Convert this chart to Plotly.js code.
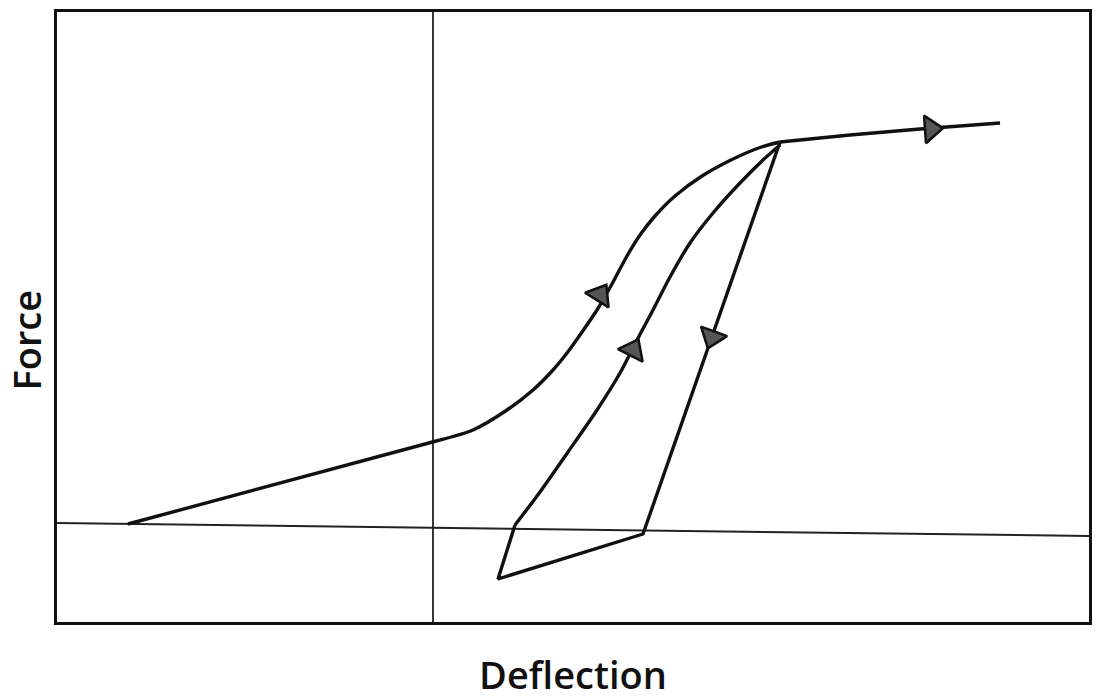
<!DOCTYPE html>
<html>
<head>
<meta charset="utf-8">
<script src="https://cdn.plot.ly/plotly-3.0.1.min.js"></script>
<style>
  html, body { margin: 0; padding: 0; background: #fff; }
  #grafica { width: 1097px; height: 700px; }
</style>
</head>
<body>
<div id="grafica"></div>
<script>
// loading path: slow linear rise, then the S-curve up to the plateau
var rectaX = [-30.4, 0.8];
var rectaY = [0.6, 9.0];
var cargaX = [0.8, 4.1, 7.5, 10.1, 12.1, 13.5, 15.0, 16.5, 18.0, 19.5, 20.8, 22.3, 24.3, 27.0, 30.1, 32.8, 34.8];
var cargaY = [9.0, 10.0, 12.0, 14.0, 16.0, 17.7, 19.8, 22.0, 24.6, 27.4, 29.5, 31.4, 33.4, 35.4, 37.1, 38.25, 38.8];
var mesetaX = [34.8, 41.8, 48.8, 56.8];
var mesetaY = [38.8, 39.5, 40.1, 40.7];

// unloading line and the small loop below zero
var bajadaX = [34.8, 21.1, 6.6, 8.3];
var bajadaY = [38.8, -0.4, -4.9, 0.5];

// reloading curve back to the plateau
var recargaX = [8.3, 10.8, 13.6, 16.5, 18.8, 20.5, 22.1, 23.8, 25.8, 28.1, 30.8, 33.1, 34.8];
var recargaY = [0.5, 3.8, 7.8, 12.0, 15.7, 19.0, 22.0, 25.3, 28.7, 31.7, 34.7, 37.0, 38.5];

// arrow heads (angle in degrees, clockwise from up)
var flechaX = [16.8, 20.1, 28.0, 49.9];
var flechaY = [23.5, 18.0, 19.3, 40.1];
var flechaAng = [32, 27, 200, 86];

// reference lines of the sketch
var ejeHX = [-37.5, 65.7];
var ejeHY = [0.7, -0.6];
var ejeVX = [0.1, 0.1];
var ejeVY = [-9.2, 51.8];

var trazo = {color: '#111', width: 3.4};
var curva = {color: '#111', width: 3.4, shape: 'spline', smoothing: 0.8};

var data = [
  {x: ejeHX, y: ejeHY, mode: 'lines', line: {color: '#222', width: 2}, hoverinfo: 'skip'},
  {x: ejeVX, y: ejeVY, mode: 'lines', line: {color: '#222', width: 1.8}, hoverinfo: 'skip'},
  {x: rectaX, y: rectaY, mode: 'lines', line: trazo},
  {x: cargaX, y: cargaY, mode: 'lines', line: curva},
  {x: mesetaX, y: mesetaY, mode: 'lines', line: trazo},
  {x: bajadaX, y: bajadaY, mode: 'lines', line: trazo},
  {x: recargaX, y: recargaY, mode: 'lines', line: curva},
  {
    x: flechaX, y: flechaY, mode: 'markers',
    marker: {symbol: 'triangle-up', size: 24, angle: flechaAng, color: '#555', line: {color: '#111', width: 2.5}}
  }
];

var layout = {
  width: 1097,
  height: 700,
  showlegend: false,
  paper_bgcolor: '#fff',
  plot_bgcolor: '#fff',
  margin: {l: 57, r: 8, t: 12, b: 78},
  font: {family: 'Open Sans, DejaVu Sans, sans-serif', color: '#111'},
  xaxis: {
    range: [-37.5, 65.7],
    showgrid: false, zeroline: false, showticklabels: false, ticks: '',
    showline: true, mirror: true, linecolor: '#111', linewidth: 2.5,
    title: {text: 'Deflection', font: {size: 38, weight: 600, color: '#111'}, standoff: 42}
  },
  yaxis: {
    range: [-9.2, 51.8],
    showgrid: false, zeroline: false, showticklabels: false, ticks: '',
    showline: true, mirror: true, linecolor: '#111', linewidth: 2.5
  },
  annotations: [{
    text: 'Force', textangle: -90, showarrow: false,
    xref: 'paper', yref: 'paper', x: -0.0297, y: 0.462, xanchor: 'center', yanchor: 'middle',
    font: {size: 38, weight: 600, color: '#111'}
  }]
};

Plotly.newPlot('grafica', data, layout, {displayModeBar: false});
</script>
</body>
</html>
